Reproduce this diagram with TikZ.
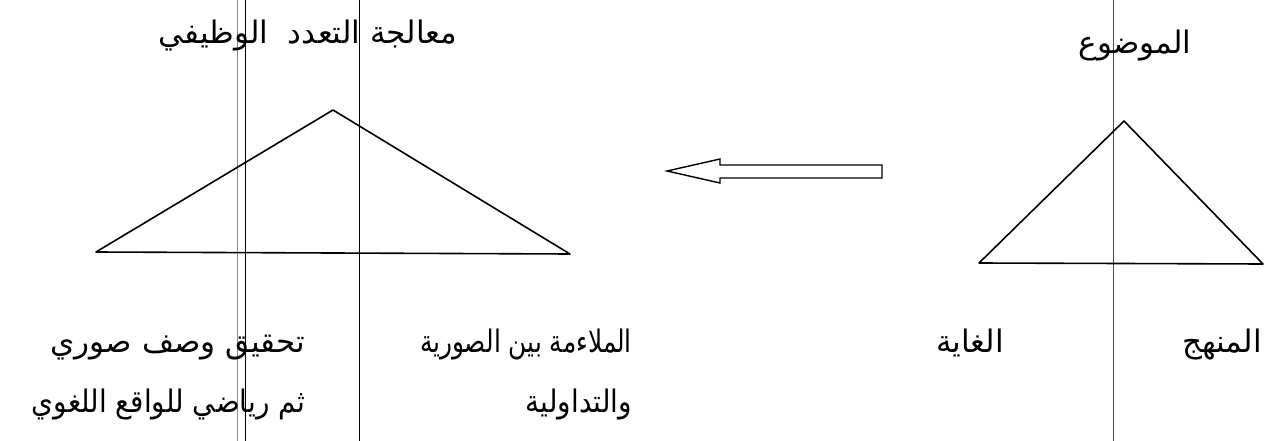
\documentclass[tikz,border=0pt]{standalone}
\usepackage{fontspec}
\newfontfamily\arabicfont[Script=Arabic]{DejaVu Sans}
\TeXXeTstate=1
\begin{document}
\begin{tikzpicture}[x=1pt,y=-1pt,
  lbl/.style={inner sep=0pt,font=\arabicfont\fontsize{31}{36}\selectfont},
  rule/.style={line width=0.9pt},
  tri/.style={line width=1.6pt,line join=round},
  blockarrow/.style={line width=1.4pt,line join=miter}]
\useasboundingbox (0,0) rectangle (1264,441);
% vertical rules
\coordinate (r1t) at (237,0); \coordinate (r1b) at (237,441);
\coordinate (r2t) at (245,0); \coordinate (r2b) at (245,441);
\coordinate (r3t) at (359,0); \coordinate (r3b) at (359,441);
\coordinate (r4t) at (1113,0); \coordinate (r4b) at (1113,441);
\draw[rule,black!45] (r1t) -- (r1b);
\draw[rule] (r2t) -- (r2b);
\draw[rule] (r3t) -- (r3b);
\draw[rule,black!70] (r4t) -- (r4b);
% left triangle
\coordinate (la) at (333,110);
\coordinate (ll) at (96,252);
\coordinate (lr) at (570,254);
\draw[tri] (la) -- (lr) -- (ll) -- cycle;
% right triangle
\coordinate (ra) at (1124,121);
\coordinate (rl) at (979,263);
\coordinate (rr) at (1263,264);
\draw[tri] (ra) -- (rr) -- (rl) -- cycle;
% block arrow
\coordinate (tip) at (667,171);
\coordinate (ht) at (720,159);
\coordinate (st) at (720,165);
\coordinate (et) at (882,165);
\coordinate (eb) at (882,178);
\coordinate (sb) at (720,178);
\coordinate (hb) at (720,183);
\draw[blockarrow] (tip) -- (ht) -- (st) -- (et) -- (eb) -- (sb) -- (hb) -- cycle;
% labels
\node[lbl,anchor=base] (t1) at (308,44) {\beginR معالجة التعدد\ \ الوظيفي\endR};
\node[lbl,anchor=base] (t2) at (1135,54) {\beginR الموضوع\endR};
\node[lbl,anchor=base east] (b1) at (305,352) {\beginR تحقيق وصف صوري\endR};
\node[lbl,anchor=base east] (b2) at (305,412) {\scalebox{0.9}[1]{\beginR ثم رياضي للواقع اللغوي\endR}};
\node[lbl,anchor=base east] (b3) at (632,352) {\scalebox{0.8}[1]{\beginR الملاءمة بين الصورية\endR}};
\node[lbl,anchor=base east] (b4) at (632,412) {\scalebox{0.9}[1]{\beginR والتداولية\endR}};
\node[lbl,anchor=base] (b5) at (970,352) {\beginR الغاية\endR};
\node[lbl,anchor=base east] (b6) at (1262,352) {\beginR المنهج\endR};
\end{tikzpicture}
\end{document}
